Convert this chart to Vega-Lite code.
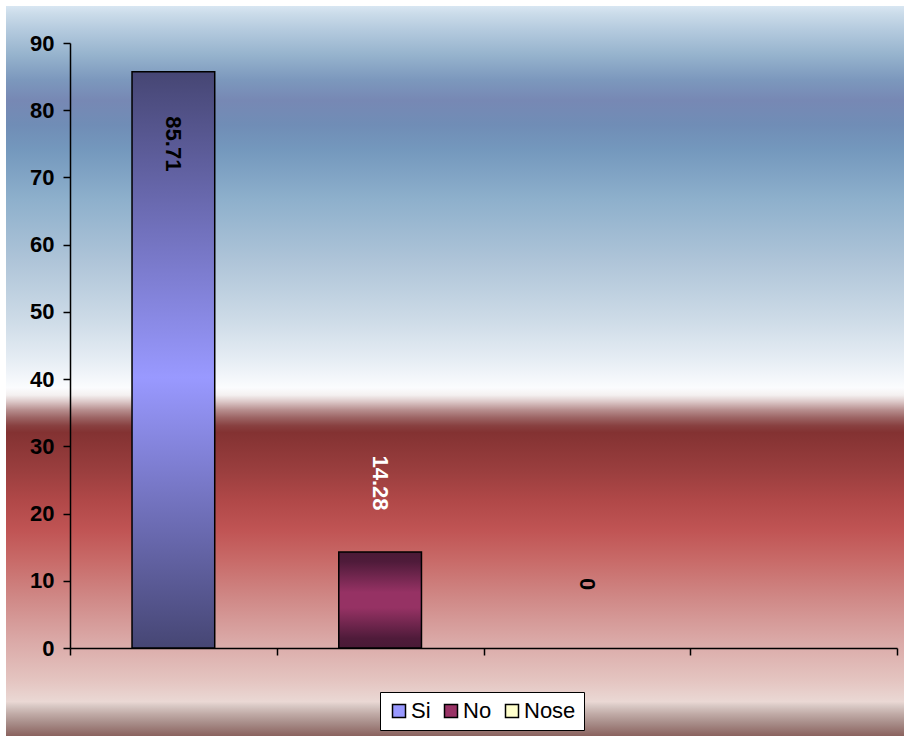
{
  "$schema": "https://vega.github.io/schema/vega-lite/v6.json",
  "autosize": {"type": "none"},
  "padding": {"left": 6, "top": 6, "right": 0, "bottom": 0},
  "width": 898,
  "height": 730,
  "background": "white",
  "view": {
    "stroke": null,
    "fill": {
      "gradient": "linear", "x1": 0, "y1": 0, "x2": 0, "y2": 1,
      "stops": [
        {"offset": 0, "color": "#d8e6f2"},
        {"offset": 0.011, "color": "#cadbe9"},
        {"offset": 0.033, "color": "#b4cade"},
        {"offset": 0.067, "color": "#96b3cd"},
        {"offset": 0.101, "color": "#7c98bd"},
        {"offset": 0.129, "color": "#7788b4"},
        {"offset": 0.163, "color": "#708db6"},
        {"offset": 0.197, "color": "#7498bd"},
        {"offset": 0.266, "color": "#8eb0cc"},
        {"offset": 0.348, "color": "#aec4d8"},
        {"offset": 0.43, "color": "#cddbe7"},
        {"offset": 0.485, "color": "#e6edf4"},
        {"offset": 0.523, "color": "#fbfcfe"},
        {"offset": 0.533, "color": "#f4f0f0"},
        {"offset": 0.542, "color": "#dcc8c8"},
        {"offset": 0.553, "color": "#b89090"},
        {"offset": 0.564, "color": "#9c6464"},
        {"offset": 0.575, "color": "#884040"},
        {"offset": 0.584, "color": "#833232"},
        {"offset": 0.636, "color": "#9a3e3e"},
        {"offset": 0.677, "color": "#b04848"},
        {"offset": 0.718, "color": "#c05454"},
        {"offset": 0.759, "color": "#c86a68"},
        {"offset": 0.814, "color": "#d08a88"},
        {"offset": 0.868, "color": "#daa8a6"},
        {"offset": 0.923, "color": "#e4c4c0"},
        {"offset": 0.953, "color": "#ead8d4"},
        {"offset": 0.959, "color": "#d8c8c4"},
        {"offset": 0.97, "color": "#c0aaa6"},
        {"offset": 0.981, "color": "#aa908c"},
        {"offset": 1, "color": "#8a625e"}
      ]
    }
  },
  "data": {
    "values": [
      {"cat": "Si", "value": 85.71},
      {"cat": "No", "value": 14.28},
      {"cat": "Nose", "value": 0}
    ]
  },
  "encoding": {
    "x": {
      "field": "cat", "type": "nominal",
      "scale": {"domain": ["Si", "No", "Nose", ""], "range": [64, 891], "paddingInner": 0, "paddingOuter": 0},
      "axis": {
        "orient": "bottom", "offset": -88, "title": null, "labels": false,
        "tickBand": "extent", "tickSize": 7, "tickColor": "black", "tickWidth": 1.5,
        "domainColor": "black", "domainWidth": 1.5, "grid": false
      }
    },
    "y": {
      "field": "value", "type": "quantitative",
      "scale": {"domain": [0, 90], "range": [642, 37], "nice": false},
      "axis": {
        "orient": "left", "offset": -64, "title": null,
        "values": [0, 10, 20, 30, 40, 50, 60, 70, 80, 90],
        "labelFont": "Liberation Sans", "labelFontSize": 22, "labelFontWeight": "bold",
        "labelColor": "black", "labelPadding": 9,
        "tickSize": 7, "tickColor": "black", "tickWidth": 1.5,
        "domainColor": "black", "domainWidth": 1.5, "grid": false
      }
    }
  },
  "layer": [
    {
      "mark": {"type": "bar", "width": {"band": 0.4}, "opacity": 1},
      "encoding": {
        "color": {
          "field": "cat", "type": "nominal",
          "scale": {"domain": ["Si", "No", "Nose"], "range": ["#9999FF", "#993366", "#FFFFCC"]},
          "legend": {
            "title": null, "orient": "none", "direction": "horizontal",
            "legendX": 374, "legendY": 686,
            "labelFont": "Liberation Sans", "labelFontSize": 22, "labelColor": "black",
            "symbolType": "square", "symbolSize": 169,
            "symbolStrokeColor": "black", "symbolStrokeWidth": 1.5,
            "columnPadding": 9, "labelOffset": 1, "padding": 8,
            "fillColor": "white", "strokeColor": "black"
          }
        }
      }
    },
    {
      "transform": [{"filter": "datum.cat === 'Si'"}],
      "mark": {
        "type": "bar", "width": {"band": 0.4}, "stroke": "black", "strokeWidth": 1.5,
        "fill": {
          "gradient": "linear", "x1": 0, "y1": 0, "x2": 0, "y2": 1,
          "stops": [
            {"offset": 0, "color": "#464674"},
            {"offset": 0.53, "color": "#9999ff"},
            {"offset": 1, "color": "#464674"}
          ]
        }
      }
    },
    {
      "transform": [{"filter": "datum.cat === 'No'"}],
      "mark": {
        "type": "bar", "width": {"band": 0.4}, "stroke": "black", "strokeWidth": 1.5,
        "fill": {
          "gradient": "linear", "x1": 0, "y1": 0, "x2": 0, "y2": 1,
          "stops": [
            {"offset": 0, "color": "#4a1a36"},
            {"offset": 0.1, "color": "#4f1b3a"},
            {"offset": 0.42, "color": "#963264"},
            {"offset": 0.58, "color": "#963264"},
            {"offset": 0.9, "color": "#4f1b3a"},
            {"offset": 1, "color": "#4a1a36"}
          ]
        }
      }
    },
    {
      "transform": [{"filter": "datum.cat === 'Si'"}],
      "mark": {"type": "text", "angle": 90, "align": "center", "baseline": "middle", "dx": 72, "font": "Liberation Sans", "fontSize": 22, "fontWeight": "bold", "color": "black"},
      "encoding": {"text": {"field": "value", "type": "quantitative", "format": ".2f"}}
    },
    {
      "transform": [{"filter": "datum.cat === 'No'"}],
      "mark": {"type": "text", "angle": 90, "align": "center", "baseline": "middle", "dx": -69, "font": "Liberation Sans", "fontSize": 22, "fontWeight": "bold", "color": "white"},
      "encoding": {"text": {"field": "value", "type": "quantitative", "format": ".2f"}}
    },
    {
      "transform": [{"filter": "datum.cat === 'Nose'"}],
      "mark": {"type": "text", "angle": 90, "align": "center", "baseline": "middle", "dx": -64, "font": "Liberation Sans", "fontSize": 22, "fontWeight": "bold", "color": "black"},
      "encoding": {"text": {"field": "value", "type": "quantitative", "format": "d"}}
    }
  ]
}
